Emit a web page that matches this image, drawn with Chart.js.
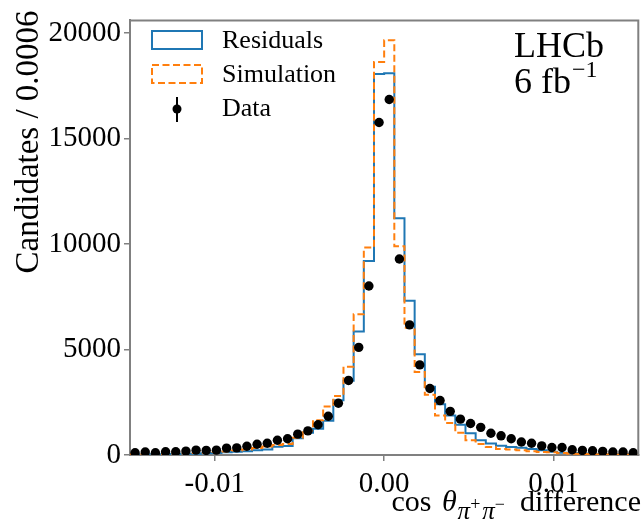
<!DOCTYPE html>
<html>
<head>
<meta charset="utf-8">
<script src="https://cdn.jsdelivr.net/npm/chart.js@4.4.0/dist/chart.umd.min.js"></script>
<style>
  html, body { margin: 0; padding: 0; background: #fff; }
  #wrap { width: 643px; height: 523px; }
</style>
</head>
<body>
<div id="wrap"><canvas id="hist-chart"></canvas></div>
<script>
// 50 bins of 0.0006 between -0.015 and 0.015
const binStart = -0.015;
const binWidth = 0.0006;

const residuals = [
    20, 25, 30, 35, 45, 55, 65, 80, 100, 130,
    150, 180, 230, 260, 390, 430, 790, 1050, 1250, 1620,
    2600, 3520, 5850, 9190, 18060, 18090, 11220, 7310, 4780, 3240,
    2400, 1870, 1430, 1030, 700, 540, 440, 380, 340, 280,
    230, 150, 110, 90, 70, 55, 45, 35, 30, 25
];
const simulation = [
    30, 35, 40, 50, 60, 75, 90, 110, 140, 170,
    210, 260, 330, 400, 470, 520, 820, 1150, 1650, 2300,
    2800, 4180, 6670, 9830, 18630, 19660, 9900, 6030, 3940, 2860,
    1870, 1520, 1050, 700, 520, 380, 290, 260, 220, 180,
    140, 130, 90, 65, 50, 40, 30, 25, 20, 15
];
const dataCounts = [
    106, 139, 106, 153, 153, 185, 231, 216, 231, 324,
    340, 417, 509, 556, 700, 770, 988, 1142, 1435, 1836,
    2454, 3534, 5100, 8010, 15760, 16850, 9290, 6170, 4270, 3150,
    2580, 2070, 1700, 1495, 1310, 1032, 910, 772, 617, 556,
    432, 355, 355, 247, 216, 200, 170, 139, 139, 108
];

const xTicks = [-0.01, 0, 0.01];
const xTickLabels = ['-0.01', '0.00', '0.01'];
const yTicks = [0, 5000, 10000, 15000, 20000];

const blue = '#1f77b4';
const orange = '#ff7f0e';
const axisColor = '#808080';
const serif = '"Liberation Serif", "DejaVu Serif", serif';

function stepPoints(values) {
    const pts = values.map((v, i) => ({ x: binStart + i * binWidth, y: v }));
    pts.push({ x: binStart + values.length * binWidth, y: 0 });
    return pts;
}

function centerPoints(values) {
    return values.map((v, i) => ({ x: binStart + (i + 0.5) * binWidth, y: v }));
}

// draws a row of text pieces, right aligned at rightX
function drawPieces(ctx, pieces, rightX, baseY) {
    let total = 0;
    pieces.forEach(p => {
        ctx.font = p.font;
        p.w = ctx.measureText(p.t).width + (p.gap || 0);
        total += p.w;
    });
    let x = rightX - total;
    ctx.textAlign = 'left';
    ctx.textBaseline = 'alphabetic';
    pieces.forEach(p => {
        ctx.font = p.font;
        ctx.fillText(p.t, x, baseY + (p.dy || 0));
        x += p.w;
    });
}

const decorPlugin = {
    id: 'decor',
    afterDraw(chart) {
        const ctx = chart.ctx;
        const a = chart.chartArea;
        ctx.save();

        // top and right frame
        ctx.strokeStyle = axisColor;
        ctx.lineWidth = 2;
        ctx.beginPath();
        ctx.moveTo(a.left, a.top);
        ctx.lineTo(a.right, a.top);
        ctx.lineTo(a.right, a.bottom);
        ctx.stroke();

        ctx.fillStyle = '#000';

        // y title
        ctx.save();
        ctx.translate(29, a.top - 10);
        ctx.rotate(-Math.PI / 2);
        ctx.font = '33px ' + serif;
        ctx.textAlign = 'right';
        ctx.textBaseline = 'middle';
        ctx.fillText('Candidates / 0.0006', 0, 0);
        ctx.restore();

        // x title
        drawPieces(ctx, [
            { t: 'cos ', font: '30px ' + serif, gap: 3 },
            { t: 'θ', font: 'italic 30px ' + serif, gap: 1 },
            { t: 'π', font: 'italic 25px ' + serif, dy: 8 },
            { t: '+', font: '18px ' + serif, dy: -1, gap: 2 },
            { t: 'π', font: 'italic 25px ' + serif, dy: 8 },
            { t: '−', font: '18px ' + serif, dy: -1 },
            { t: '  difference', font: '30px ' + serif }
        ], 641, 511);

        // LHCb label
        ctx.textAlign = 'left';
        ctx.textBaseline = 'alphabetic';
        ctx.font = '36px ' + serif;
        ctx.fillText('LHCb', 514, 57);
        ctx.fillText('6 fb', 514, 93);
        const w6 = ctx.measureText('6 fb').width;
        ctx.font = '24px ' + serif;
        ctx.fillText('−1', 514 + w6 + 1, 77);

        // legend
        ctx.font = '26px ' + serif;
        ctx.textBaseline = 'middle';
        ctx.lineWidth = 2;
        ctx.strokeStyle = blue;
        ctx.strokeRect(152, 31, 50, 18);
        ctx.fillText('Residuals', 222, 41);

        ctx.strokeStyle = orange;
        ctx.setLineDash([7, 3.5]);
        ctx.strokeRect(152, 65, 50, 18);
        ctx.setLineDash([]);
        ctx.fillText('Simulation', 222, 75);

        ctx.strokeStyle = '#000';
        ctx.beginPath();
        ctx.moveTo(177, 97);
        ctx.lineTo(177, 122);
        ctx.stroke();
        ctx.beginPath();
        ctx.arc(177, 109, 4.5, 0, Math.PI * 2);
        ctx.fill();
        ctx.fillText('Data', 222, 109);

        ctx.restore();
    }
};

function initChart() {
    const ctx = document.getElementById('hist-chart');
    if (!ctx) return;

    new Chart(ctx, {
        type: 'line',
        data: {
            datasets: [{
                label: 'Residuals',
                data: stepPoints(residuals),
                borderColor: blue,
                borderWidth: 2,
                stepped: 'before',
                pointRadius: 0,
                fill: false,
                order: 2
            }, {
                label: 'Simulation',
                data: stepPoints(simulation),
                borderColor: orange,
                borderWidth: 2,
                borderDash: [7, 3.5],
                stepped: 'before',
                pointRadius: 0,
                fill: false,
                order: 1
            }, {
                label: 'Data',
                data: centerPoints(dataCounts),
                showLine: false,
                pointRadius: 4.7,
                pointBackgroundColor: '#000',
                pointBorderWidth: 0,
                order: 0
            }]
        },
        options: {
            responsive: true,
            maintainAspectRatio: false,
            animation: false,
            layout: {
                padding: { top: 9, right: 1, left: 0, bottom: 0 }
            },
            plugins: {
                legend: { display: false },
                tooltip: { enabled: false }
            },
            scales: {
                x: {
                    type: 'linear',
                    min: -0.015,
                    max: 0.015,
                    afterBuildTicks: function(scale) {
                        scale.ticks = xTicks.map(v => ({ value: v }));
                    },
                    afterFit: function(scale) {
                        scale.height = 68;
                    },
                    ticks: {
                        color: '#000',
                        font: { family: serif, size: 29 },
                        padding: 6,
                        maxRotation: 0,
                        autoSkip: false,
                        callback: function(value) {
                            return xTickLabels[xTicks.indexOf(value)];
                        }
                    },
                    grid: {
                        display: true,
                        drawOnChartArea: false,
                        tickLength: 6,
                        color: axisColor,
                        lineWidth: 1.5
                    },
                    border: { color: axisColor, width: 2 }
                },
                y: {
                    min: 0,
                    max: 20600,
                    afterBuildTicks: function(scale) {
                        scale.ticks = yTicks.map(v => ({ value: v }));
                    },
                    afterFit: function(scale) {
                        scale.width = 130;
                    },
                    ticks: {
                        color: '#000',
                        font: { family: serif, size: 29 },
                        padding: 3,
                        autoSkip: false,
                        callback: function(value) {
                            return String(value);
                        }
                    },
                    grid: {
                        display: true,
                        drawOnChartArea: false,
                        tickLength: 6,
                        color: axisColor,
                        lineWidth: 1.5
                    },
                    border: { color: axisColor, width: 2 }
                }
            }
        },
        plugins: [decorPlugin]
    });
}

initChart();
</script>
</body>
</html>
